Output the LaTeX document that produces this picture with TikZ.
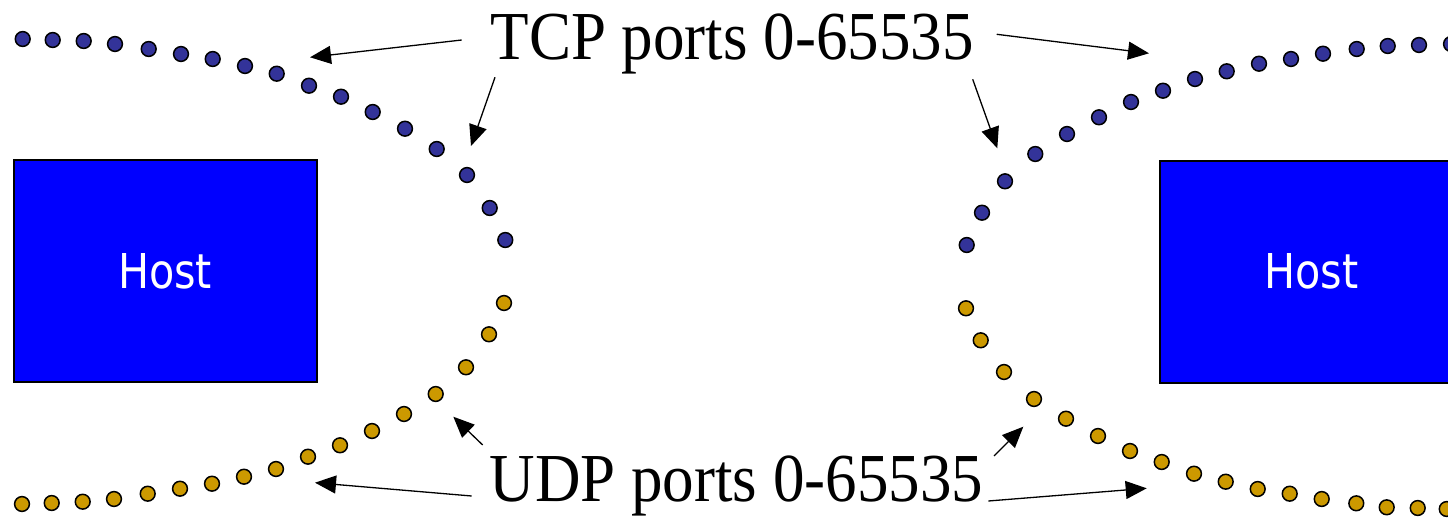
\documentclass[tikz,border=0pt]{standalone}
\usepackage{fontspec}
\setmainfont{Liberation Serif}
\newfontfamily\hostfont[FakeStretch=0.86]{DejaVu Sans}
\usetikzlibrary{arrows.meta}
\definecolor{tcpdot}{HTML}{333399}
\definecolor{udpdot}{HTML}{CC9900}
\definecolor{hostblue}{HTML}{0000FF}
\tikzset{
  hostbox/.style={draw=black, line width=2pt, fill=hostblue, rectangle,
    minimum width=303pt, minimum height=222pt, inner sep=0pt,
    text=white, font=\hostfont\fontsize{48}{48}\selectfont},
  portlabel/.style={anchor=base west, inner sep=0pt,
    font=\fontsize{63}{63}\selectfont},
  pointer/.style={draw=black, line width=1.3pt,
    -{Triangle[length=21pt,width=18pt]}},
  tcpport/.style={draw=black, line width=1.5pt, fill=tcpdot},
  udpport/.style={draw=black, line width=1.5pt, fill=udpdot},
}
\newcommand{\portrow}[2]{%
  \foreach \px/\py in {#2} {\path[#1] (\px,\py) circle (7.4pt);}}
\begin{document}
\begin{tikzpicture}[x=1pt, y=-1pt]
\useasboundingbox (0,0) rectangle (1448,519);
\clip (0,0) rectangle (1448,519);

% hosts
\node[hostbox] (hostL) at (165,271.3) {Host};
\node[hostbox] (hostR) at (1311.5,271.8) {Host};

% port rows
\portrow{tcpport}{22.7/39,52.7/40,83.7/41,115/44,148.7/49,181/54,212.7/59,245/66,276.7/73.7,309/85.7,341/96.7,372.7/112,405/128.7,436.7/149,467/175,489.7/208,505.3/240}
\portrow{udpport}{22/504,51.7/503,82.7/501.7,114/499,147.7/493.7,180/488.7,212/483.7,244/476.7,276/469,308/456.7,340/445.3,372/431,404/414,435.7/394,466/367.3,489/334.3,504/303}
\portrow{tcpport}{966.7/245,982/212.7,1005/181.3,1035.3/154,1067/134,1099/117.3,1131/102,1163/90.7,1195/79,1226.7/71.3,1259/63.7,1291/59,1323/53.7,1356.7/49,1387.7/46,1419/45,1451/44}
\portrow{udpport}{966/308.3,980.7/340.3,1004/372,1034/399,1066/418.7,1098/436,1130/451,1161.7/462,1194/473.7,1225.7/481.7,1257.7/489,1289.7/493.7,1321.7/499,1356.3/503.3,1386.7/507.3,1417.7/508,1446.7/509}

% labels
\node[portlabel] (tcp) at (490.5,59.3) {\scalebox{1}[1.09]{TCP ports 0-65535}};
\node[portlabel] (udp) at (489.5,501) {\scalebox{1}[1.09]{UDP ports 0-65535}};

% pointer ends
\coordinate (tcpA0) at (461.7,40);   \coordinate (tcpA1) at (310,57.3);
\coordinate (tcpB0) at (495,77.3);   \coordinate (tcpB1) at (471,146);
\coordinate (tcpC0) at (996.7,34.3); \coordinate (tcpC1) at (1149,53.3);
\coordinate (tcpD0) at (972.7,79.3); \coordinate (tcpD1) at (997.3,148.3);
\coordinate (udpA0) at (482.7,445);  \coordinate (udpA1) at (453.3,416.7);
\coordinate (udpB0) at (471.7,496);  \coordinate (udpB1) at (315,482.7);
\coordinate (udpC0) at (994,456);    \coordinate (udpC1) at (1023.3,426.7);
\coordinate (udpD0) at (988.3,501);  \coordinate (udpD1) at (1146.7,488.3);

\draw[pointer] (tcpA0) -- (tcpA1);
\draw[pointer] (tcpB0) -- (tcpB1);
\draw[pointer] (tcpC0) -- (tcpC1);
\draw[pointer] (tcpD0) -- (tcpD1);
\draw[pointer] (udpA0) -- (udpA1);
\draw[pointer] (udpB0) -- (udpB1);
\draw[pointer] (udpC0) -- (udpC1);
\draw[pointer] (udpD0) -- (udpD1);
\end{tikzpicture}
\end{document}
